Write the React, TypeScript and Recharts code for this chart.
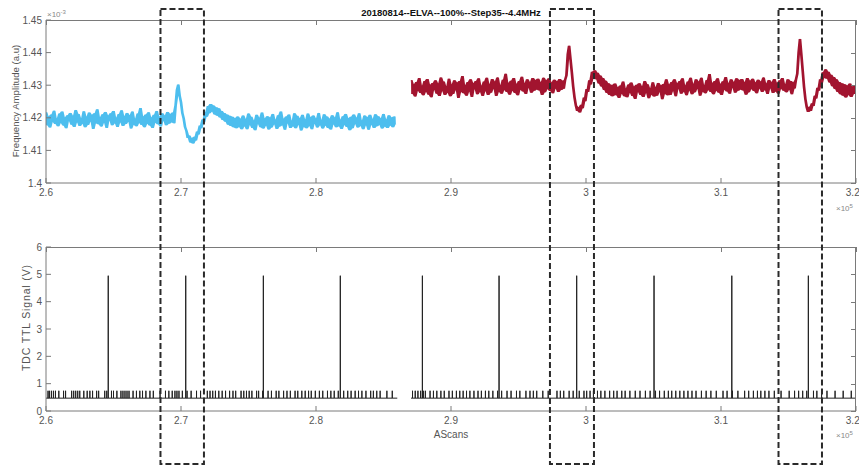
import React from 'react';
import { ComposedChart, LineChart, Line, Area, XAxis, YAxis } from 'recharts';

// x in units of 1e5 AScans, amplitude in units of 1e-3
const xTicks = [2.6, 2.7, 2.8, 2.9, 3.0, 3.1, 3.2];
const freqTicks = [1.4, 1.41, 1.42, 1.43, 1.44, 1.45];
const ttlTicks = [0, 1, 2, 3, 4, 5, 6];

const blueStart = 2.6;
const redStart = 2.8705;
const sampleStep = 0.001;

const blueValues = [
  1.4217, 1.4177, 1.4204, 1.417, 1.421, 1.4187, 1.4222, 1.4181, 1.4198, 1.4174, 1.4213, 1.4184, 1.4219, 1.4176, 1.4201, 1.4168, 1.4208, 1.419, 1.4215, 1.4179,
  1.4206, 1.4172, 1.4224, 1.4186, 1.4212, 1.4175, 1.4199, 1.4182, 1.422, 1.4171, 1.4203, 1.4178, 1.4216, 1.4189, 1.4209, 1.4166, 1.4214, 1.4183, 1.4226, 1.418,
  1.4202, 1.4173, 1.4211, 1.4185, 1.4218, 1.4169, 1.4207, 1.4192, 1.4214, 1.4177, 1.4221, 1.4183, 1.42, 1.4172, 1.4212, 1.4186, 1.4223, 1.4175, 1.4205, 1.4181,
  1.4215, 1.4188, 1.4208, 1.4167, 1.4219, 1.4179, 1.4197, 1.4174, 1.4213, 1.4184, 1.423, 1.4178, 1.4204, 1.4171, 1.421, 1.4182, 1.4217, 1.4176, 1.4201, 1.4169,
  1.4209, 1.4185, 1.4221, 1.418, 1.4203, 1.4173, 1.4214, 1.4191, 1.4207, 1.4177, 1.4218, 1.4182, 1.4212, 1.4186, 1.4216, 1.4183,
  1.4238, 1.4285, 1.4302, 1.4268, 1.4248, 1.4215, 1.4198, 1.4172, 1.416, 1.4138, 1.4146, 1.4124, 1.4138, 1.4121, 1.4142, 1.413, 1.4158, 1.4149, 1.4176, 1.4168,
  1.4195, 1.4186, 1.4218, 1.4203, 1.4236, 1.4214, 1.4242, 1.4219, 1.4238, 1.421, 1.4232, 1.4206, 1.4229, 1.4201, 1.4221, 1.4193, 1.4215, 1.4188, 1.421, 1.4179,
  1.4206, 1.4175, 1.4203, 1.4171, 1.4199, 1.4168, 1.4204, 1.4172, 1.4197, 1.4165,
  1.4207, 1.4174, 1.4196, 1.4165, 1.4213, 1.4178, 1.4203, 1.4169, 1.4192, 1.4162, 1.4209, 1.4181, 1.42, 1.4171, 1.4216, 1.4167, 1.4198, 1.4176, 1.4205, 1.4164,
  1.4201, 1.417, 1.4212, 1.418, 1.4194, 1.4166, 1.4208, 1.4173, 1.4219, 1.4177, 1.4197, 1.4163, 1.4204, 1.4183, 1.421, 1.4169, 1.4191, 1.4174, 1.4214, 1.4168,
  1.4206, 1.4179, 1.4199, 1.4161, 1.4209, 1.4172, 1.4195, 1.4168, 1.4213, 1.4175, 1.4202, 1.4165, 1.4207, 1.4182, 1.4198, 1.417, 1.4215, 1.4177, 1.4193, 1.4167,
  1.4211, 1.4176, 1.4204, 1.4169, 1.4197, 1.4164, 1.4208, 1.418, 1.4201, 1.4171, 1.4217, 1.4174, 1.4194, 1.4166, 1.4205, 1.4178, 1.4212, 1.4172, 1.4199, 1.4162,
  1.4203, 1.4168, 1.421, 1.4181, 1.42, 1.417, 1.4214, 1.4175, 1.4192, 1.4165, 1.4207, 1.4177, 1.4202, 1.4163, 1.4209, 1.4179, 1.4196, 1.4169, 1.4211, 1.4174,
  1.4205, 1.4178, 1.4199, 1.4167, 1.4212, 1.4173, 1.4195, 1.4169, 1.4208, 1.4176, 1.4201, 1.4171, 1.4204, 1.418,
];

const redValues = [
  1.4316, 1.4273, 1.4303, 1.4265, 1.431, 1.4283, 1.4322, 1.4276, 1.4298, 1.4269, 1.4313, 1.428, 1.4319, 1.4271, 1.4301, 1.4263, 1.4307, 1.4286, 1.4315, 1.4274,
  1.4305, 1.4267, 1.4324, 1.4282, 1.4311, 1.427, 1.4297, 1.4277, 1.432, 1.4266, 1.4302, 1.4273, 1.4315, 1.4285, 1.4308, 1.4261, 1.4313, 1.4279, 1.4328, 1.4275,
  1.43, 1.4268, 1.431, 1.4281, 1.4318, 1.4264, 1.4306, 1.4288, 1.4313, 1.4272, 1.4321, 1.4279, 1.4298, 1.4267, 1.4311, 1.4282, 1.4323, 1.427, 1.4303, 1.4277,
  1.4319, 1.4289, 1.4311, 1.4267, 1.4324, 1.428, 1.43, 1.4274, 1.4317, 1.4285, 1.4335, 1.4279, 1.4307, 1.4271, 1.4314, 1.4283, 1.4322, 1.4276, 1.4304, 1.4269,
  1.4313, 1.4286, 1.4326, 1.4281, 1.4306, 1.4273, 1.4318, 1.4292, 1.431, 1.4277, 1.4322, 1.4283, 1.4316, 1.4287, 1.432, 1.4284, 1.4309, 1.427, 1.4323, 1.4278,
  1.4315, 1.4288, 1.4321, 1.4282, 1.4308, 1.4275, 1.4317, 1.429, 1.4312, 1.4279, 1.4319, 1.4285, 1.4314, 1.4289, 1.4316,
  1.433, 1.4395, 1.4421, 1.438, 1.434, 1.4296, 1.4262, 1.4238, 1.4221, 1.4232, 1.4216, 1.424, 1.4229, 1.4262, 1.4251, 1.4288, 1.4279, 1.4315, 1.4302, 1.4341,
  1.432, 1.4346, 1.4318, 1.4338, 1.4305, 1.433, 1.4296, 1.4322, 1.4285, 1.4314, 1.4276, 1.4306, 1.427, 1.4301, 1.4266, 1.4298,
  1.4305, 1.4269, 1.4294, 1.4261, 1.4299, 1.4274, 1.4311, 1.4266, 1.429, 1.4263, 1.4302, 1.4277, 1.4308, 1.4267, 1.4296, 1.4258, 1.4301, 1.4279, 1.4306, 1.427,
  1.4297, 1.4264, 1.4313, 1.4276, 1.4303, 1.426, 1.4291, 1.4271, 1.4309, 1.4265, 1.4294, 1.4268, 1.4307, 1.4279, 1.43, 1.4257, 1.4304, 1.4273, 1.4318, 1.4269,
  1.4302, 1.427, 1.431, 1.4282, 1.4318, 1.4266, 1.4306, 1.4289, 1.4313, 1.4274, 1.4321, 1.428, 1.4299, 1.4269, 1.4311, 1.4284, 1.4323, 1.4272, 1.4304, 1.4278,
  1.4318, 1.4289, 1.4311, 1.4268, 1.4323, 1.428, 1.43, 1.4275, 1.4316, 1.4285, 1.4334, 1.4279, 1.4307, 1.4272, 1.4313, 1.4283, 1.4321, 1.4277, 1.4304, 1.427,
  1.4312, 1.4286, 1.4325, 1.4281, 1.4306, 1.4274, 1.4318, 1.4292, 1.431, 1.4277, 1.4321, 1.4283, 1.4316, 1.4287, 1.4319, 1.4284, 1.4309, 1.4271, 1.4322, 1.4278,
  1.4314, 1.4288, 1.432, 1.4282, 1.4308, 1.4275, 1.4317, 1.429, 1.4311, 1.4279, 1.4324, 1.4285, 1.4305, 1.4273, 1.4316, 1.4291, 1.431, 1.4276, 1.4319, 1.4281,
  1.4307, 1.4274, 1.4315, 1.4289, 1.4322, 1.4283, 1.4303, 1.4278, 1.4318, 1.4286, 1.4313, 1.4272, 1.4309, 1.429, 1.4317,
  1.4335, 1.44, 1.4442, 1.4395, 1.4345, 1.4295, 1.4258, 1.4232, 1.4218, 1.4234, 1.4221, 1.4245, 1.4236, 1.4268, 1.4259, 1.4292, 1.4283, 1.4318, 1.4305, 1.434,
  1.4322, 1.4349, 1.432, 1.4341, 1.4308,
  1.4332, 1.4297, 1.4325, 1.4288, 1.4318, 1.4279, 1.431, 1.4272, 1.4306, 1.4268, 1.4303, 1.4262, 1.4299, 1.427, 1.4305, 1.4264, 1.4296, 1.4273, 1.43,
];

// TTL signal
const ttlSegments = [[2.6, 2.8602], [2.8704, 3.2]];
const ttlBase = 0.47;
const ttlSmall = 0.74;
const ttlHigh = 4.95;
const spikeX = [2.6461, 2.7035, 2.761, 2.818, 2.8788, 2.9356, 2.9931, 3.0504, 3.108, 3.1647];
const smallTickX = [
  2.6015, 2.6025, 2.604, 2.6055, 2.607, 2.6095, 2.613, 2.6145, 2.619, 2.6205, 2.622, 2.6235,
  2.625, 2.628, 2.6305, 2.6325, 2.6345, 2.6375, 2.639, 2.6435, 2.645, 2.6485, 2.65, 2.6525,
  2.6555, 2.657, 2.6585, 2.66, 2.6615, 2.6645, 2.667, 2.6695, 2.6715, 2.674, 2.677, 2.6795,
  2.6845, 2.6885, 2.691, 2.6935, 2.6955, 2.697, 2.6985, 2.701, 2.7045, 2.7075, 2.7115, 2.7145,
  2.7195, 2.7215, 2.7235, 2.7255, 2.728, 2.7305, 2.733, 2.736, 2.7385, 2.7405, 2.7445, 2.7465,
  2.7485, 2.7505, 2.7525, 2.756, 2.7575, 2.7605, 2.7645, 2.767, 2.7705, 2.7725, 2.776, 2.7785,
  2.781, 2.7845, 2.7865, 2.7895, 2.792, 2.7945, 2.7965, 2.7995, 2.8025, 2.805, 2.8085, 2.811,
  2.8135, 2.8165, 2.8205, 2.8235, 2.826, 2.829, 2.8315, 2.834, 2.837, 2.8405, 2.8425, 2.845,
  2.8475, 2.8525, 2.8565,
  2.8715, 2.8735, 2.8755, 2.8775, 2.8795, 2.881, 2.8845, 2.887, 2.8895, 2.8925, 2.895, 2.8985,
  2.901, 2.904, 2.9065, 2.909, 2.9115, 2.914, 2.917, 2.92, 2.9225, 2.9255, 2.928, 2.931,
  2.9345, 2.9375, 2.9415, 2.9445, 2.9485, 2.951, 2.9555, 2.9585, 2.961, 2.9635, 2.968, 2.972,
  2.9785, 2.981, 2.9835, 2.9875, 2.9905, 2.995, 2.9985, 3.0005, 3.003, 3.0055, 3.0085, 3.011,
  3.014, 3.0175, 3.0205, 3.023, 3.0265, 3.029, 3.0325, 3.0365, 3.04, 3.044, 3.0475, 3.0515,
  3.0545, 3.058, 3.061, 3.0635, 3.0665, 3.0695, 3.0725, 3.0755, 3.0785, 3.0815, 3.0855, 3.089,
  3.0925, 3.0965, 3.1015, 3.1045, 3.1085, 3.1125, 3.1175, 3.1205, 3.124, 3.127, 3.1295, 3.1325,
  3.1355, 3.1395, 3.1445, 3.1505, 3.1545, 3.1575, 3.1605, 3.1635, 3.1685, 3.171, 3.1745, 3.1785,
  3.1845, 3.1905, 3.1965,
];

// dashed annotation boxes (x range in 1e5 AScans)
const boxes = [[2.6848, 2.717], [2.9733, 3.0059], [3.1426, 3.1748]];

// band = min/max of each sample and its neighbours, drawn under the trace
const withBand = (vals: number[], start: number, key: string) =>
  vals.map((y, i) => {
    const near = vals.slice(Math.max(0, i - 1), i + 2);
    return { x: start + i * sampleStep, [key]: y, [key + 'Band']: [Math.min(...near), Math.max(...near)] };
  });
const freqData = [...withBand(blueValues, blueStart, 'blue'), ...withBand(redValues, redStart, 'red')];

const ttlData: { x: number; y: number | null }[] = [];
ttlSegments.forEach(([a, b]) => {
  const events = [
    ...spikeX.filter((x) => x > a && x < b).map((x) => ({ x, h: ttlHigh })),
    ...smallTickX.filter((x) => x > a && x < b).map((x) => ({ x, h: ttlSmall })),
  ].sort((p, q) => p.x - q.x);
  ttlData.push({ x: a, y: ttlBase });
  events.forEach((e) => {
    ttlData.push({ x: e.x, y: ttlBase }, { x: e.x, y: e.h }, { x: e.x, y: ttlBase });
  });
  ttlData.push({ x: b, y: ttlBase });
  ttlData.push({ x: b + 0.005, y: null });
});

const FONT = '"Liberation Sans", Arial, sans-serif';
const AXIS = '#7a7a7a';
const LABEL = '#555';
const PLOT_L = 46;
const PLOT_W = 810;
const PLOT_R = PLOT_L + PLOT_W;
const toPx = (v: number) => PLOT_L + ((v - 2.6) / 0.6) * PLOT_W;
// plot boxes of the two panels, used for the frame
const panels = [
  { top: 20, h: 163, ticks: freqTicks },
  { top: 247, h: 164, ticks: ttlTicks },
];

const fmtX = (v: number) => String(Number(v.toFixed(1)));
const fmtF = (v: number) => String(Number(v.toFixed(2)));
const tickStyle = { fill: LABEL, fontSize: 10, fontFamily: FONT };

const xAxis = (
  <XAxis xAxisId="b" dataKey="x" type="number" domain={[2.6, 3.2]} ticks={xTicks}
    allowDataOverflow tickFormatter={fmtX} tickSize={-5} tickMargin={11} height={30}
    stroke={AXIS} tick={tickStyle} />
);

export default function App() {
  const frameTicks: React.ReactNode[] = [];
  panels.forEach((p, k) => {
    xTicks.forEach((t) => {
      const x = Math.round(toPx(t)) + 0.5;
      frameTicks.push(
        <line key={`tx${k}-${t}`} x1={x} x2={x} y1={p.top} y2={p.top + 5} stroke={AXIS} strokeWidth={1} />
      );
    });
    p.ticks.forEach((t, i) => {
      const y = Math.round(p.top + (p.h * (p.ticks.length - 1 - i)) / (p.ticks.length - 1)) + 0.5;
      frameTicks.push(
        <line key={`ty${k}-${t}`} x1={PLOT_R - 5} x2={PLOT_R} y1={y} y2={y} stroke={AXIS} strokeWidth={1} />
      );
    });
  });

  return (
    <div style={{ position: 'absolute', left: 0, top: 0, width: 859, height: 466, background: '#fff', fontFamily: FONT }}>
      <div style={{ position: 'absolute', left: 0, top: 0 }}>
        <ComposedChart width={859} height={230} data={freqData} margin={{ top: 20, right: 3, bottom: 17, left: 6 }}>
          {xAxis}
          <YAxis yAxisId="l" type="number" domain={[1.4, 1.45]} ticks={freqTicks} allowDataOverflow
            tickFormatter={fmtF} tickSize={-5} tickMargin={9} width={40} stroke={AXIS} tick={tickStyle} />
          <Area xAxisId="b" yAxisId="l" dataKey="blueBand" stroke="none" fill="#4DBEEE" fillOpacity={1}
            isAnimationActive={false} activeDot={false} />
          <Area xAxisId="b" yAxisId="l" dataKey="redBand" stroke="none" fill="#A2142F" fillOpacity={1}
            isAnimationActive={false} activeDot={false} />
          <Line xAxisId="b" yAxisId="l" dataKey="blue" stroke="#4DBEEE" strokeWidth={0.6}
            dot={false} activeDot={false} isAnimationActive={false} />
          <Line xAxisId="b" yAxisId="l" dataKey="red" stroke="#A2142F" strokeWidth={0.6}
            dot={false} activeDot={false} isAnimationActive={false} />
        </ComposedChart>
      </div>
      <div style={{ position: 'absolute', left: 0, top: 230 }}>
        <LineChart width={859} height={236} data={ttlData} margin={{ top: 17, right: 3, bottom: 25, left: 6 }}>
          {xAxis}
          <YAxis yAxisId="l" type="number" domain={[0, 6]} ticks={ttlTicks} allowDataOverflow
            tickFormatter={fmtX} tickSize={-5} tickMargin={9} width={40} stroke={AXIS} tick={tickStyle} />
          <Line xAxisId="b" yAxisId="l" dataKey="y" stroke="#222" strokeWidth={1}
            dot={false} activeDot={false} isAnimationActive={false} connectNulls={false} />
        </LineChart>
      </div>
      {panels.map((p, k) => (
        <div key={'box' + k} style={{
          position: 'absolute', left: PLOT_L, top: p.top, width: PLOT_W - 1, height: p.h,
          borderTop: `1px solid ${AXIS}`, borderRight: `1px solid ${AXIS}`, pointerEvents: 'none',
        }} />
      ))}
      <svg width={859} height={466} style={{ position: 'absolute', left: 0, top: 0, pointerEvents: 'none' }}>
        {frameTicks}
        <text x={451} y={16} textAnchor="middle" fontSize={9.5} fontWeight="bold" fill="#111" fontFamily={FONT}>
          20180814--ELVA--100%--Step35--4.4MHz
        </text>
        <text x={47} y={17} fontSize={8} fill="#888" fontFamily={FONT}>
          ×10<tspan dy={-3} fontSize={6}>-3</tspan>
        </text>
        <text x={836} y={211} fontSize={8} fill="#888" fontFamily={FONT}>
          ×10<tspan dy={-3} fontSize={6}>5</tspan>
        </text>
        <text x={836} y={438} fontSize={8} fill="#888" fontFamily={FONT}>
          ×10<tspan dy={-3} fontSize={6}>5</tspan>
        </text>
        <text transform="translate(19,101) rotate(-90)" textAnchor="middle" fontSize={9.6} fill={LABEL} fontFamily={FONT}>
          Frequency Amplitude (a.u)
        </text>
        <text transform="translate(30,318) rotate(-90)" textAnchor="middle" fontSize={10.5} fill={LABEL} fontFamily={FONT}
          textLength={106} lengthAdjust="spacing">
          TDC TTL Signal (V)
        </text>
        <text x={451} y={438} textAnchor="middle" fontSize={10} fill={LABEL} fontFamily={FONT}>
          AScans
        </text>
        {boxes.map(([a, b], i) => (
          <rect key={i} x={toPx(a)} y={9} width={toPx(b) - toPx(a)} height={455} fill="none"
            stroke="#2a2a2a" strokeWidth={2} strokeDasharray="6 3" />
        ))}
      </svg>
    </div>
  );
}
